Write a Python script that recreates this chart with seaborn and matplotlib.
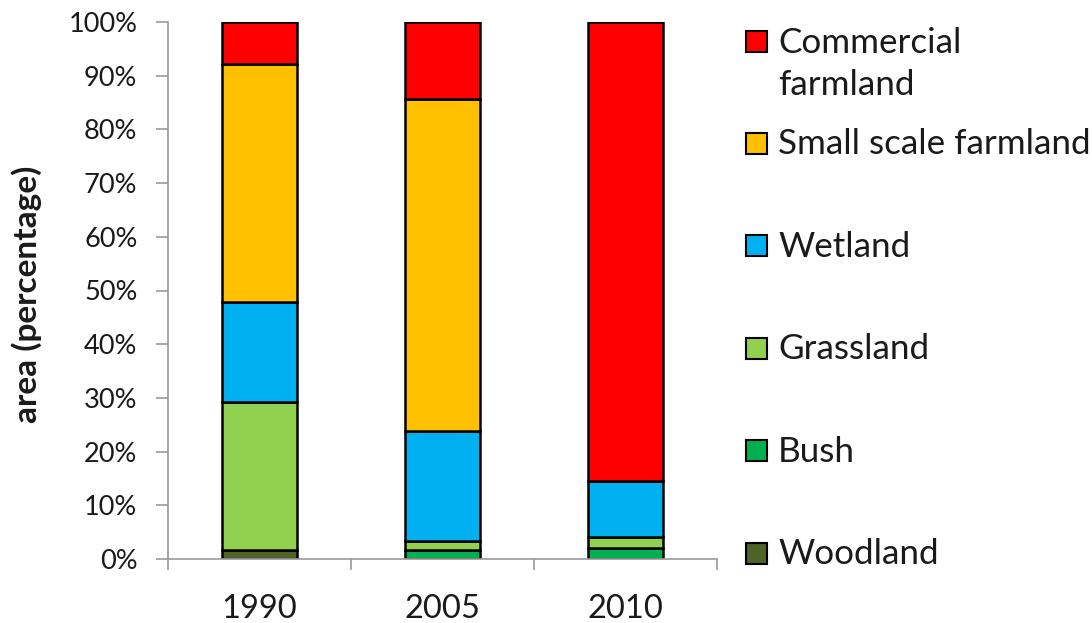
import numpy as np
import pandas as pd
import matplotlib.pyplot as plt
import seaborn as sns
from matplotlib.patches import Rectangle
from matplotlib.ticker import PercentFormatter, FixedLocator

# Valores (percentual da área, por ano)
years = ["1990", "2005", "2010"]
classes = ["Commercial farmland", "Small scale farmland", "Wetland", "Grassland", "Bush", "Woodland"]
legend_labels = ["Commercial\nfarmland", "Small scale farmland", "Wetland", "Grassland", "Bush", "Woodland"]
commercial = [7.8, 14.3, 85.4]
small_scale = [44.3, 61.8, 0.0]
wetland = [18.7, 20.5, 10.5]
grassland = [27.6, 1.7, 2.1]
bush = [0.0, 1.7, 2.0]
woodland = [1.6, 0.0, 0.0]
colors = ["#FF0000", "#FFC000", "#00B0F0", "#92D050", "#00B050", "#4F6228"]

series = [commercial, small_scale, wetland, grassland, bush, woodland]
rows = []
for cls, vals in zip(classes, series):
    for i, v in enumerate(vals):
        rows.append({"pos": i, "class": cls, "value": v})
df = pd.DataFrame(rows)

sns.set_theme(style="white")
plt.rcParams["font.family"] = ["Lato", "DejaVu Sans"]

fig = plt.figure(figsize=(10.92, 6.23), dpi=100)
ax = fig.add_axes([168 / 1092, 1 - 559 / 623, (717 - 168) / 1092, (559 - 22) / 623])

# primeira classe do hue_order fica no topo da pilha
sns.histplot(df, x="pos", weights="value", hue="class", hue_order=classes,
             palette=colors, multiple="stack", discrete=True, shrink=0.41,
             edgecolor="black", linewidth=1.8, alpha=1, legend=False, ax=ax)

ax.set_xlim(-0.5, 2.5)
ax.set_ylim(0, 100)
ax.set_yticks(np.arange(0, 101, 10))
ax.yaxis.set_major_formatter(PercentFormatter(100, decimals=0))
ax.set_xticks(range(len(years)))
ax.set_xticklabels(years)
ax.xaxis.set_minor_locator(FixedLocator([-0.5, 0.5, 1.5, 2.5]))

ax.tick_params(axis="x", which="major", length=0, pad=25, labelsize=23.5, colors="#1a1a1a")
ax.tick_params(axis="x", which="minor", bottom=True, length=8, width=1.2, color="#9a9a9a")
ax.tick_params(axis="y", left=True, length=9, width=1.2, color="#9a9a9a", pad=13,
               labelsize=19.5, labelcolor="#1a1a1a")

for side in ["top", "right"]:
    ax.spines[side].set_visible(False)
for side in ["left", "bottom"]:
    ax.spines[side].set_color("#9a9a9a")
    ax.spines[side].set_linewidth(1.2)

ax.set_xlabel("")
ax.set_ylabel("")
fig.text(27 / 1092, 1 - 294 / 623, "area (percentage)", rotation=90, ha="center", va="center",
         fontsize=24, fontweight="bold", color="#1a1a1a")

# legenda no estilo do Excel (comercial em cima)
W, H = 1092, 623
for i, (lab, col) in enumerate(zip(legend_labels, colors)):
    cy = 41 + 102.4 * i
    extra = 43 * lab.count("\n")  # baseline da última linha
    fig.add_artist(Rectangle((746 / W, 1 - (cy + 10.5) / H), 21 / W, 21 / H,
                             transform=fig.transFigure, facecolor=col,
                             edgecolor="black", linewidth=1.5))
    fig.text(778 / W, 1 - (cy + 11 + extra) / H, lab, ha="left", va="baseline",
             fontsize=25.2, color="#1a1a1a", linespacing=1.38)

fig.savefig("out.png", dpi=100)
